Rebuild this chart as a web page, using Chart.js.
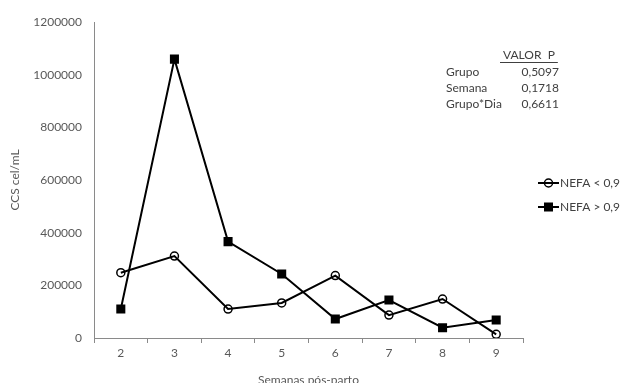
<!DOCTYPE html>
<html>
<head>
<meta charset="utf-8">
<script src="https://cdn.jsdelivr.net/npm/chart.js@4/dist/chart.umd.min.js"></script>
<style>
  html, body { margin: 0; padding: 0; background: #fff; }
  #wrap { width: 620px; height: 383px; }
</style>
</head>
<body>
<div id="wrap"><canvas id="ccsChart" width="620" height="383"></canvas></div>
<script>
'use strict';

// --- data ---
const WEEKS = ['2', '3', '4', '5', '6', '7', '8', '9'];
const NEFA_LOW = [248000, 311000, 110000, 133000, 237000, 87000, 148000, 14000];
const NEFA_HIGH = [110000, 1059000, 366000, 243000, 72000, 144000, 39000, 68000];
const SERIES_NAMES = ['NEFA < 0,9', 'NEFA > 0,9'];
const P_HEADER = 'VALOR  P';
const P_LABELS = ['Grupo', 'Semana', 'Grupo*Dia'];
const P_VALUES = ['0,5097', '0,1718', '0,6611'];

const FONT = 'Lato, "Open Sans", sans-serif';
const AXIS_GREY = '#8a8a8a';
const TEXT_GREY = '#595959';

// legend + p-value table drawn on top of the plot
const overlay = {
  id: 'overlay',
  afterDraw(chart) {
    const ctx = chart.ctx;
    ctx.save();
    ctx.font = '12px ' + FONT;
    ctx.fillStyle = '#404040';
    ctx.textBaseline = 'middle';

    // p-value table
    ctx.textAlign = 'left';
    ctx.fillText(P_HEADER, 503, 55);
    const hw = ctx.measureText(P_HEADER).width;
    ctx.strokeStyle = '#404040';
    ctx.lineWidth = 1;
    ctx.beginPath();
    ctx.moveTo(500, 62.5);
    ctx.lineTo(503 + hw + 3, 62.5);
    ctx.stroke();
    P_LABELS.forEach((lab, i) => {
      const y = 72 + i * 16;
      ctx.textAlign = 'left';
      ctx.fillText(lab, 446, y);
      ctx.textAlign = 'right';
      ctx.fillText(P_VALUES[i], 559, y);
    });

    // legend
    chart.data.datasets.forEach((ds, i) => {
      const y = 183 + i * 24;
      ctx.strokeStyle = '#000';
      ctx.lineWidth = 2;
      ctx.beginPath();
      ctx.moveTo(538, y);
      ctx.lineTo(559, y);
      ctx.stroke();
      if (ds.pointStyle === 'rect') {
        ctx.fillStyle = '#000';
        ctx.fillRect(544, y - 4.5, 9, 9);
      } else {
        ctx.lineWidth = 1.5;
        ctx.beginPath();
        ctx.arc(548.5, y, 4, 0, Math.PI * 2);
        ctx.stroke();
      }
      ctx.fillStyle = '#404040';
      ctx.textAlign = 'left';
      ctx.fillText(ds.label, 560, y);
    });
    ctx.restore();
  }
};

new Chart(document.getElementById('ccsChart').getContext('2d'), {
  type: 'line',
  data: {
    labels: WEEKS,
    datasets: [
      {
        label: SERIES_NAMES[0],
        data: NEFA_LOW,
        borderColor: '#000',
        borderWidth: 2,
        pointStyle: 'circle',
        pointRadius: 4,
        pointBorderWidth: 1.5,
        pointBorderColor: '#000',
        pointBackgroundColor: 'rgba(0,0,0,0)',
        tension: 0,
      },
      {
        label: SERIES_NAMES[1],
        data: NEFA_HIGH,
        borderColor: '#000',
        borderWidth: 2,
        pointStyle: 'rect',
        pointRadius: 6.4,
        pointBorderWidth: 0,
        pointBackgroundColor: '#000',
        tension: 0,
      },
    ],
  },
  options: {
    responsive: false,
    animation: false,
    devicePixelRatio: 1,
    layout: { padding: { left: 0, right: 97, top: 22, bottom: 0 } },
    plugins: { legend: { display: false }, tooltip: { enabled: false } },
    scales: {
      x: {
        offset: true,
        grid: { offset: true, drawOnChartArea: false, drawTicks: true, tickLength: 5, color: AXIS_GREY },
        border: { color: AXIS_GREY, width: 1 },
        ticks: { color: TEXT_GREY, font: { family: FONT, size: 12 }, padding: 3 },
        title: { display: true, text: 'Semanas pós-parto', color: TEXT_GREY, font: { family: FONT, size: 12 }, padding: { top: 0, bottom: -4 } },
        afterFit: s => { s.height = 45; },
      },
      y: {
        min: 0,
        max: 1200000,
        ticks: { stepSize: 200000, color: TEXT_GREY, font: { family: FONT, size: 12 }, padding: 12, callback: v => String(v) },
        grid: { display: false, drawTicks: false },
        border: { display: true, color: AXIS_GREY, width: 1 },
        title: { display: true, text: 'CCS cel/mL', color: TEXT_GREY, font: { family: FONT, size: 12 }, padding: { top: 8, bottom: 4 } },
        afterFit: s => { s.width = 94; },
      },
    },
  },
  plugins: [overlay],
});
</script>
</body>
</html>
